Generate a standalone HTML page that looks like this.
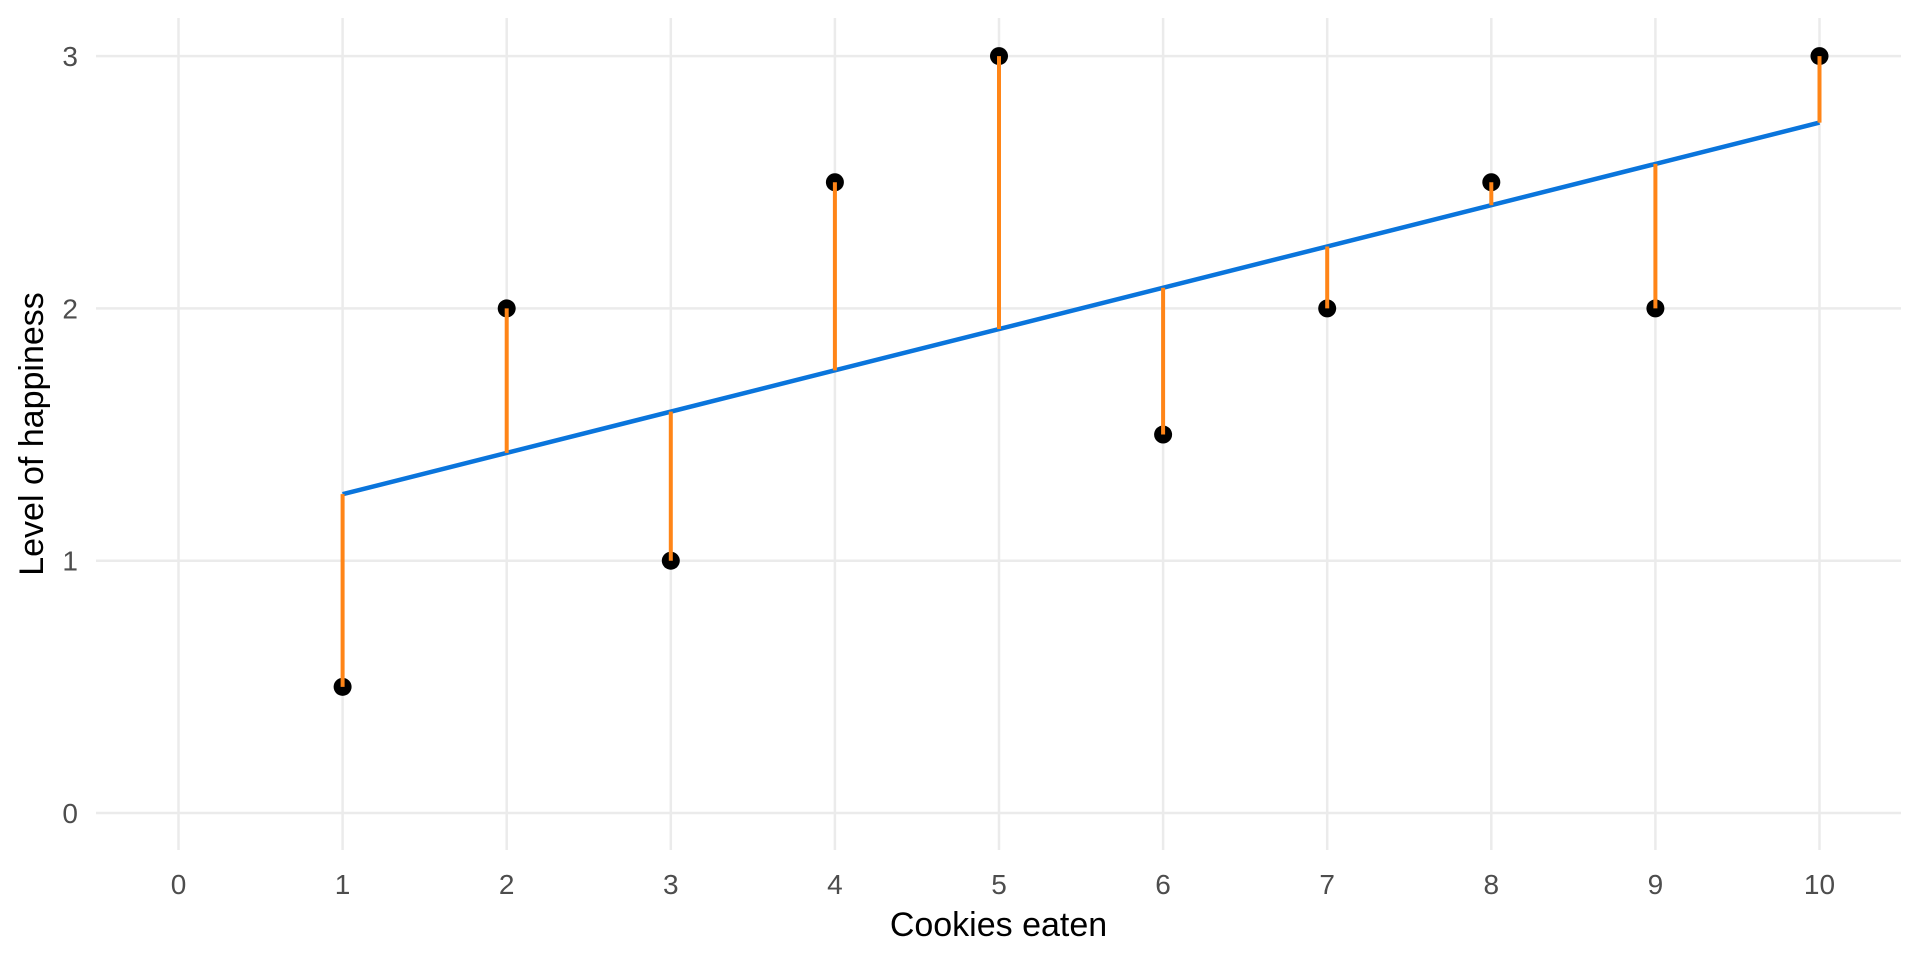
<!DOCTYPE html>
<html><head><meta charset="utf-8"><style>
body{margin:0;background:#fff}
svg{display:block;font-family:"Liberation Sans",Arial,sans-serif}
</style></head><body>
<svg id="chart" width="1920" height="960"></svg>
<script>
const xTicks=[0,1,2,3,4,5,6,7,8,9,10];
const yTicks=[0,1,2,3];
const cookies=[1,2,3,4,5,6,7,8,9,10];
const happiness=[0.5,2,1,2.5,3,1.5,2,2.5,2,3];
const NS="http://www.w3.org/2000/svg";
const svg=document.getElementById('chart');
const X=v=>178.5+v*164.1;
const Y=v=>813-v*252.3;
function mk(t,a,parent){const e=document.createElementNS(NS,t);for(const k in a)e.setAttribute(k,a[k]);(parent||svg).appendChild(e);return e;}
const n=cookies.length,mx=cookies.reduce((a,b)=>a+b)/n,my=happiness.reduce((a,b)=>a+b)/n;
let sxy=0,sxx=0;for(let i=0;i<n;i++){sxy+=(cookies[i]-mx)*(happiness[i]-my);sxx+=(cookies[i]-mx)**2;}
const slope=sxy/sxx,icpt=my-slope*mx;
const fit=x=>icpt+slope*x;
yTicks.forEach(v=>{
 const l=mk('line',{x1:96,x2:1901,y1:Y(v),y2:Y(v),stroke:'#ebebeb','stroke-width':2.5});
 
 
 const t=mk('text',{x:78,y:Y(v)+10,'text-anchor':'end','font-size':28,fill:'#4d4d4d'});t.textContent=v;
 
 
});
xTicks.forEach(v=>{
 const l=mk('line',{x1:X(v),x2:X(v),y1:18,y2:850,stroke:'#ebebeb','stroke-width':2.5});
 
 
 const t=mk('text',{x:X(v),y:894,'text-anchor':'middle','font-size':28,fill:'#4d4d4d'});t.textContent=v;
 
 
});
const reg=mk('line',{x1:X(cookies[0]),y1:Y(fit(cookies[0])),x2:X(cookies[n-1]),y2:Y(fit(cookies[n-1])),stroke:'#0a75dc','stroke-width':4.5});


for(let i=0;i<n;i++){
 const c=mk('circle',{cx:X(cookies[i]),cy:Y(happiness[i]),r:9,fill:'#000'});
 
 
}
for(let i=0;i<n;i++){
 const r=mk('line',{x1:X(cookies[i]),x2:X(cookies[i]),y1:Y(happiness[i]),y2:Y(fit(cookies[i])),stroke:'#ff8517','stroke-width':4});
 
 
}
const xt=mk('text',{x:998.5,y:936,'text-anchor':'middle','font-size':34,fill:'#000'});xt.textContent='Cookies eaten';


const yt=mk('text',{x:0,y:0,'text-anchor':'middle','font-size':34,fill:'#000',transform:'translate(43,434) rotate(-90)'});yt.textContent='Level of happiness';


</script>
</body></html>
